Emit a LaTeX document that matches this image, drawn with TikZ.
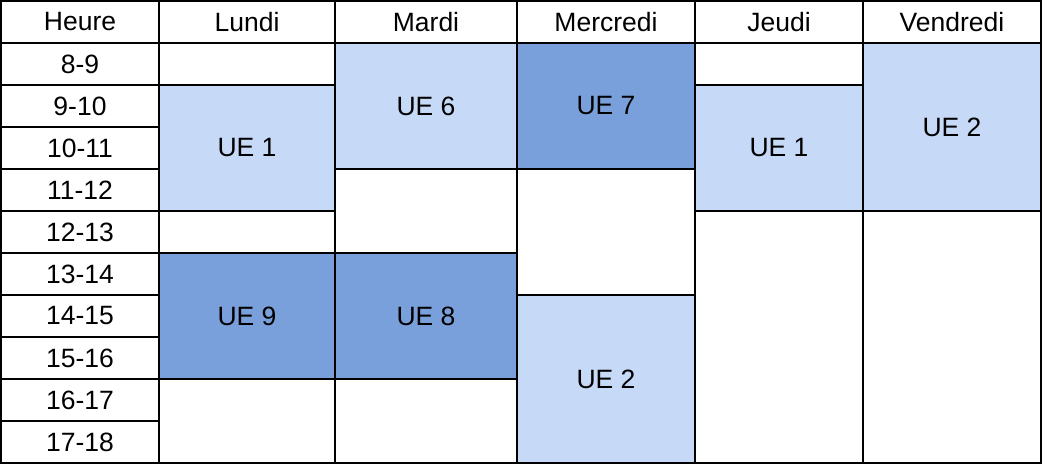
\documentclass[tikz,border=0pt]{standalone}
\usepackage{fontspec}
\setmainfont{Liberation Sans}
\definecolor{uelight}{HTML}{C6D9F7}
\definecolor{uedark}{HTML}{7AA0DB}
\tikzset{
  cellsty/.style={draw=black, line width=2pt, inner sep=0pt, outer sep=0pt,
    rectangle, font=\fontsize{26.5}{30}\selectfont, text=black},
}
\newcommand\cellbox[7]{%
  \node[cellsty, fill=#6, minimum width={#4-#2}, minimum height={#5-#3}]
    (#1) at ({(#2+#4)/2},{(#3+#5)/2}) {#7};}
\begin{document}
\begin{tikzpicture}[x=1pt,y=-1pt]
\fill[white] (0,0) rectangle (1042,464);
\useasboundingbox (0,0) rectangle (1042,464);
% columns: 1,159,335,517,695,863,1041
% rows: 1,43,85,127,169,211,253,295,337,379,421,463
% Heure column
\cellbox{hh}{1}{1}{159}{43}{white}{Heure}
\cellbox{h1}{1}{43}{159}{85}{white}{8-9}
\cellbox{h2}{1}{85}{159}{127}{white}{9-10}
\cellbox{h3}{1}{127}{159}{169}{white}{10-11}
\cellbox{h4}{1}{169}{159}{211}{white}{11-12}
\cellbox{h5}{1}{211}{159}{253}{white}{12-13}
\cellbox{h6}{1}{253}{159}{295}{white}{13-14}
\cellbox{h7}{1}{295}{159}{337}{white}{14-15}
\cellbox{h8}{1}{337}{159}{379}{white}{15-16}
\cellbox{h9}{1}{379}{159}{421}{white}{16-17}
\cellbox{h10}{1}{421}{159}{463}{white}{17-18}
% headers
\cellbox{lh}{159}{1}{335}{43}{white}{Lundi}
\cellbox{mh}{335}{1}{517}{43}{white}{Mardi}
\cellbox{wh}{517}{1}{695}{43}{white}{Mercredi}
\cellbox{jh}{695}{1}{863}{43}{white}{Jeudi}
\cellbox{vh}{863}{1}{1041}{43}{white}{Vendredi}
% Lundi
\cellbox{l1}{159}{43}{335}{85}{white}{}
\cellbox{l2}{159}{85}{335}{211}{uelight}{UE 1}
\cellbox{l3}{159}{211}{335}{253}{white}{}
\cellbox{l4}{159}{253}{335}{379}{uedark}{UE 9}
\cellbox{l5}{159}{379}{335}{463}{white}{}
% Mardi
\cellbox{m1}{335}{43}{517}{169}{uelight}{UE 6}
\cellbox{m2}{335}{169}{517}{253}{white}{}
\cellbox{m3}{335}{253}{517}{379}{uedark}{UE 8}
\cellbox{m4}{335}{379}{517}{463}{white}{}
% Mercredi
\cellbox{w1}{517}{43}{695}{169}{uedark}{UE 7}
\cellbox{w2}{517}{169}{695}{295}{white}{}
\cellbox{w3}{517}{295}{695}{463}{uelight}{UE 2}
% Jeudi
\cellbox{j1}{695}{43}{863}{85}{white}{}
\cellbox{j2}{695}{85}{863}{211}{uelight}{UE 1}
\cellbox{j3}{695}{211}{863}{463}{white}{}
% Vendredi
\cellbox{v1}{863}{43}{1041}{211}{uelight}{UE 2}
\cellbox{v2}{863}{211}{1041}{463}{white}{}
\end{tikzpicture}
\end{document}
